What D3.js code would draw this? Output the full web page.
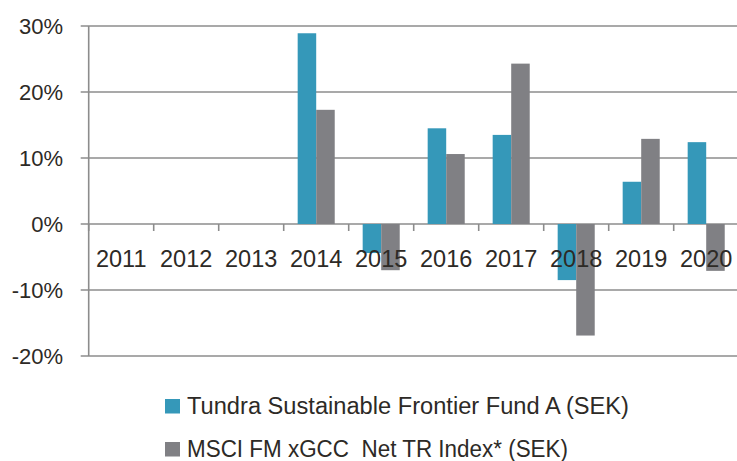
<!DOCTYPE html>
<html>
<head>
<meta charset="utf-8">
<script src="https://cdn.jsdelivr.net/npm/d3@7"></script>
<style>
  body { margin: 0; background: #fff; }
  text { font-family: "Liberation Sans", Arial, sans-serif; fill: #2d2a26; white-space: pre; }
</style>
</head>
<body>
<svg id="chart" width="737" height="461"></svg>
<script>
const years = ["2011", "2012", "2013", "2014", "2015", "2016", "2017", "2018", "2019", "2020"];
const fund = [null, null, null, 28.9, -4.4, 14.5, 13.5, -8.5, 6.4, 12.4];
const index = [null, null, null, 17.3, -7.0, 10.6, 24.3, -16.9, 12.9, -7.1];
const yTicks = [-20, -10, 0, 10, 20, 30];
const seriesNames = ["Tundra Sustainable Frontier Fund A (SEK)", "MSCI FM xGCC  Net TR Index* (SEK)"];
const colors = ["#3598b9", "#808084"];

const svg = d3.select("#chart");
const plotLeft = 88.7, plotRight = 738.7, plotTop = 26, plotBottom = 356;

const x = d3.scaleBand().domain(years).range([plotLeft, plotRight]).paddingInner(0.43).paddingOuter(0.215);
const xs = d3.scaleBand().domain([0, 1]).range([0, x.bandwidth()]);
const y = d3.scaleLinear().domain([-20, 30]).range([plotBottom, plotTop]);

// gridlines + left ticks
svg.append("g").selectAll("line")
  .data(yTicks)
  .enter().append("line")
  .attr("x1", plotLeft - 8).attr("x2", 737)
  .attr("y1", d => y(d)).attr("y2", d => y(d))
  .attr("stroke", "#8c8c8c").attr("stroke-width", 1.6);

// bars
const rows = years.map((yr, i) => ({ yr, vals: [fund[i], index[i]] }));
const groups = svg.append("g").selectAll("g")
  .data(rows)
  .enter().append("g")
  .attr("transform", d => `translate(${x(d.yr)},0)`);

groups.selectAll("rect")
  .data(d => d.vals.map((v, k) => ({ v, k })).filter(e => e.v !== null))
  .enter().append("rect")
  .attr("x", e => xs(e.k))
  .attr("width", xs.bandwidth())
  .attr("y", e => y(Math.max(0, e.v)))
  .attr("height", e => Math.abs(y(e.v) - y(0)))
  .attr("fill", e => colors[e.k]);

// left axis line
svg.append("line")
  .attr("x1", plotLeft).attr("x2", plotLeft)
  .attr("y1", plotTop).attr("y2", plotBottom)
  .attr("stroke", "#8c8c8c").attr("stroke-width", 1.6);

// x ticks on zero line
const xTickPos = years.map(yr => x(yr) - x.step() * x.paddingOuter());
svg.append("g").selectAll("line")
  .data(xTickPos.concat([plotRight]))
  .enter().append("line")
  .attr("x1", d => d).attr("x2", d => d)
  .attr("y1", y(0)).attr("y2", y(0) + 7)
  .attr("stroke", "#8c8c8c").attr("stroke-width", 1.6);

// y labels
svg.append("g").selectAll("text")
  .data(yTicks)
  .enter().append("text")
  .attr("x", 63).attr("y", d => y(d) + 8)
  .attr("text-anchor", "end")
  .attr("font-size", 22)
  .text(d => d + "%");

// year labels
svg.append("g").selectAll("text")
  .data(years)
  .enter().append("text")
  .attr("x", d => x(d) + x.bandwidth() / 2)
  .attr("y", 267)
  .attr("text-anchor", "middle")
  .attr("font-size", 23.5)
  .text(d => d);

// legend
const legendWidths = [442, 381];
const legend = svg.append("g").selectAll("g")
  .data(seriesNames)
  .enter().append("g")
  .attr("transform", (d, i) => `translate(165,${399 + i * 43})`);
legend.append("rect")
  .attr("x", 0).attr("y", 0).attr("width", 15).attr("height", 14.5)
  .attr("fill", (d, i) => colors[i]);
legend.append("text")
  .attr("x", 22).attr("y", 15)
  .attr("font-size", 23.5)
  .attr("textLength", (d, i) => legendWidths[i])
  .attr("lengthAdjust", "spacingAndGlyphs")
  .text(d => d);
</script>
</body>
</html>
